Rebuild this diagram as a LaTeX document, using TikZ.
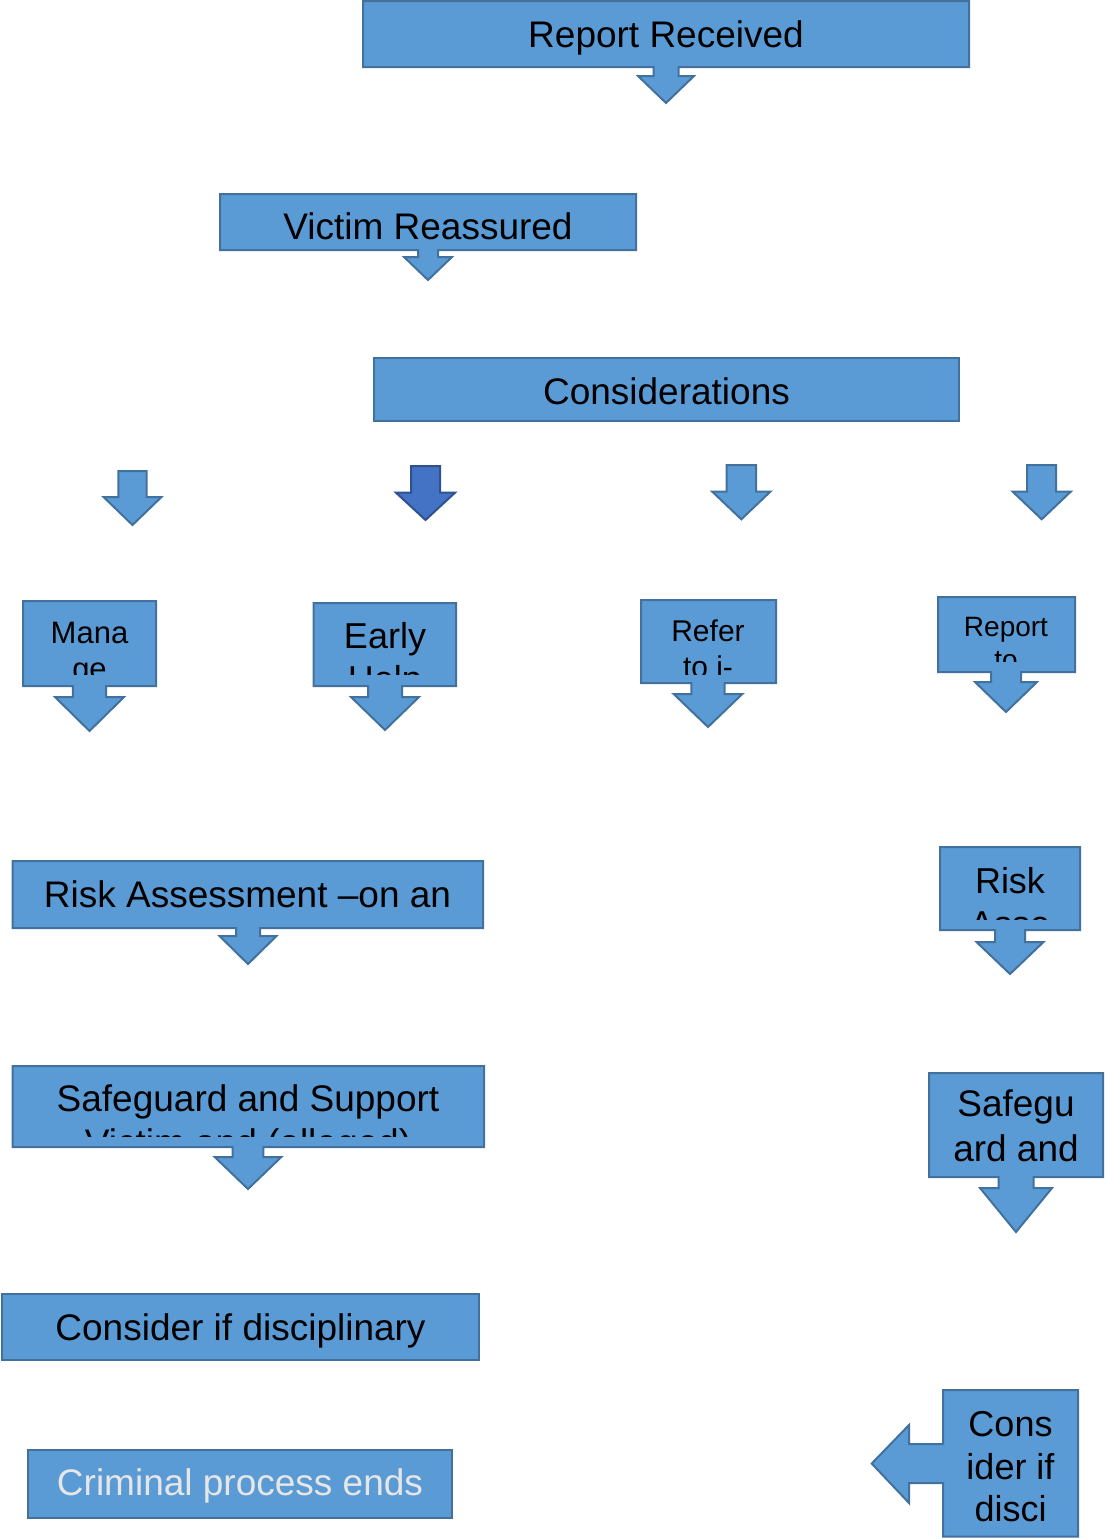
\documentclass[tikz,border=0pt]{standalone}
\usepackage{fontspec}
\setmainfont{Liberation Sans}
\definecolor{boxfill}{HTML}{5B9BD5}
\definecolor{boxline}{HTML}{41719C}
\definecolor{darkfill}{HTML}{4472C4}
\definecolor{darkline}{HTML}{2F528F}
\definecolor{palegray}{HTML}{E7E6E6}
% down callout: L,T,R,B,cx,shaft half,head half,head top,tip
\newcommand{\dncall}[9]{%
  \path[shapestyle] (#1,#2) -- (#3,#2) -- (#3,#4) -- ({#5+#6},#4) -- ({#5+#6},#8)
    -- ({#5+#7},#8) -- (#5,#9) -- ({#5-#7},#8) -- ({#5-#6},#8) -- ({#5-#6},#4)
    -- (#1,#4) -- cycle;}
% down arrow: cx,top,shaft half,head half,head top,tip,style
\newcommand{\dnarrow}[7]{%
  \path[#7] ({#1-#3},#2) -- ({#1+#3},#2) -- ({#1+#3},#5) -- ({#1+#4},#5)
    -- (#1,#6) -- ({#1-#4},#5) -- ({#1-#3},#5) -- cycle;}
\begin{document}
\begin{tikzpicture}[x=1pt,y=-1pt,
  shapestyle/.style={fill=boxfill,draw=boxline,line width=2pt,line join=miter},
  darkshape/.style={fill=darkfill,draw=darkline,line width=2pt,line join=miter},
  lbl/.style={inner sep=0pt,anchor=base,text=black,font=\fontsize{37}{44}\selectfont},
  lblm/.style={lbl,font=\fontsize{36}{43}\selectfont},
  lbls/.style={lbl,font=\fontsize{31}{36}\selectfont},
  lblr/.style={lbl,font=\fontsize{30}{35}\selectfont},
  lblt/.style={lbl,font=\fontsize{28}{32}\selectfont}]
\useasboundingbox (0,0) rectangle (1104,1539);

% Report Received
\dncall{363}{1}{969}{67}{666}{12.5}{28}{76}{103}
\node[lbl] (rr) at (666,47) {Report Received};

% Victim Reassured
\dncall{220}{194}{636}{250}{428}{10}{24}{257}{280}
\node[lbl] (vr) at (428,239) {Victim Reassured};

% Considerations
\path[shapestyle] (374,358) rectangle (959,421);
\node[lbl] (cons) at (666.5,404) {Considerations};

% four free arrows
\dnarrow{132.5}{471}{14.2}{29}{497}{525}{shapestyle}
\dnarrow{425.5}{466}{14.5}{29.5}{492.7}{520}{darkshape}
\dnarrow{741.3}{465}{14.7}{29}{491.7}{519.3}{shapestyle}
\dnarrow{1041.7}{465}{14.5}{29}{491.7}{519.3}{shapestyle}

% Manage
\dncall{23}{601}{156}{686}{89.5}{16.7}{34.5}{697}{731}
\begin{scope}
  \clip (23,601) rectangle (156,674);
  \node[lbls] (man1) at (89.5,643) {Mana};
  \node[lbls] (man2) at (89.5,679) {ge};
\end{scope}

% Early Help
\dncall{313.5}{603}{456}{686}{385}{17}{34}{697}{730}
\begin{scope}
  \clip (313.5,603) rectangle (456,674);
  \node[lblm] (eh1) at (385,648) {Early};
  \node[lblm] (eh2) at (385,691) {Help};
\end{scope}

% Refer
\dncall{641}{600}{776}{683}{708}{16.7}{34.3}{694}{727}
\begin{scope}
  \clip (641,600) rectangle (776,674);
  \node[lblr] (rf1) at (708,641.7) {Refer};
  \node[lblr] (rf2) at (708,677) {to i-};
\end{scope}

% Report to
\dncall{938}{597}{1075}{672}{1006}{15}{31}{682}{712}
\begin{scope}
  \clip (938,597) rectangle (1075,661.7);
  \node[lblt] (rt1) at (1006,636.7) {Report};
  \node[lblt] (rt2) at (1006,669) {to};
\end{scope}

% Risk Assessment (left)
\dncall{12.5}{861}{483}{928}{248}{12}{28.5}{936}{964}
\node[lbl] (ra) at (247.5,907) {Risk Assessment –on an};

% Risk (right)
\dncall{940}{847}{1080}{930}{1010}{15}{33.5}{942}{974}
\begin{scope}
  \clip (940,847) rectangle (1080,919);
  \node[lblm] (rk1) at (1010,893) {Risk};
  \node[lblm] (rk2) at (1010,936) {Asse};
\end{scope}

% Safeguard and Support (left)
\dncall{12.5}{1066}{484}{1147}{248}{15.3}{33.3}{1157}{1189}
\begin{scope}
  \clip (12.5,1066) rectangle (484,1136);
  \node[lbl] (sg1) at (248,1111.7) {Safeguard and Support};
  \node[lbl] (sg2) at (248,1155) {Victim and (alleged)};
\end{scope}

% Safeguard (right)
\dncall{929}{1073}{1103}{1177}{1016}{17.5}{36}{1188}{1232}
\node[lbl] (sr1) at (1016,1116.7) {Safegu};
\node[lbl] (sr2) at (1016,1161) {ard and};

% Consider if disciplinary
\path[shapestyle] (2,1294) rectangle (479,1360);
\node[lbl] (cd) at (240.5,1340.7) {Consider if disciplinary};

% Criminal process ends
\path[shapestyle] (27.5,1449.5) rectangle (452,1518);
\node[lbl,text=palegray] (cp) at (240,1495) {Criminal process ends};

% Consider (right, left arrow)
\path[shapestyle] (943,1390) -- (1078,1390) -- (1078,1536.7) -- (943,1536.7)
  -- (943,1483) -- (909,1483) -- (909,1503) -- (871.7,1463.5) -- (909,1425)
  -- (909,1444) -- (943,1444) -- cycle;
\node[lblm] (cr1) at (1010.5,1436) {Cons};
\node[lblm] (cr2) at (1010.5,1479) {ider if};
\node[lblm] (cr3) at (1010.5,1521.7) {disci};
\end{tikzpicture}
\end{document}
